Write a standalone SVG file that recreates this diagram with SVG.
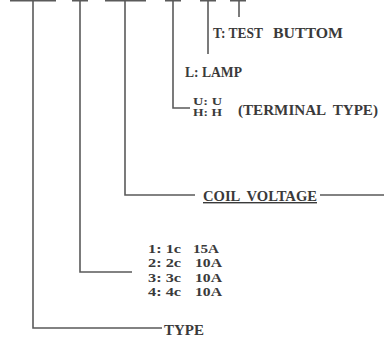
<svg xmlns="http://www.w3.org/2000/svg" width="384" height="338" viewBox="0 0 384 338">
<style>
.c{fill:none;stroke:#5a5a5a;stroke-width:1.6}
.t{font-family:"Liberation Serif",serif;font-weight:bold;fill:#3a3a3a;font-size:14px}
.s{font-family:"Liberation Serif",serif;font-weight:bold;fill:#3a3a3a;font-size:11px}
.p{font-family:"Liberation Serif",serif;font-weight:bold;fill:#3a3a3a;font-size:13px}
</style>
<rect width="384" height="338" fill="#fff"/>
<g id="connectors">
<path class="c" d="M10 0.8H56M72 0.8H88M105 0.8H146M165 0.8H181M200 0.8H216M230 0.8H246"/>
<path class="c" d="M33 0V328H162"/>
<path class="c" d="M80 0V272H132"/>
<path class="c" d="M125 0V195H195M320 195H384"/>
<path class="c" d="M173 0V108H190"/>
<path class="c" d="M208 0V54"/>
<path class="c" d="M239 0V17"/>
</g>
<g id="test"><text class="t" x="213" y="38" textLength="50" lengthAdjust="spacingAndGlyphs">T: TEST</text><text class="t" x="273" y="38" textLength="70" lengthAdjust="spacingAndGlyphs">BUTTOM</text></g>
<g id="lamp"><text class="t" x="185" y="77" textLength="57" lengthAdjust="spacingAndGlyphs">L: LAMP</text></g>
<g id="terminal">
<text class="s" x="193" y="105" textLength="29" lengthAdjust="spacingAndGlyphs">U: U</text>
<text class="s" x="193" y="116" textLength="29" lengthAdjust="spacingAndGlyphs">H: H</text>
<text class="t" x="238" y="115" textLength="140" xml:space="preserve" lengthAdjust="spacingAndGlyphs">(TERMINAL  TYPE)</text>
</g>
<g id="coil"><text class="t" x="203" y="201" textLength="114" xml:space="preserve" lengthAdjust="spacingAndGlyphs" text-decoration="underline">COIL  VOLTAGE</text></g>
<g id="poles">
<text class="p" x="148" y="253" textLength="33" lengthAdjust="spacingAndGlyphs">1: 1c</text><text class="p" x="193" y="253" textLength="26" lengthAdjust="spacingAndGlyphs">15A</text>
<text class="p" x="148" y="267" textLength="33" lengthAdjust="spacingAndGlyphs">2: 2c</text><text class="p" x="195" y="267" textLength="27" lengthAdjust="spacingAndGlyphs">10A</text>
<text class="p" x="148" y="282" textLength="33" lengthAdjust="spacingAndGlyphs">3: 3c</text><text class="p" x="195" y="282" textLength="27" lengthAdjust="spacingAndGlyphs">10A</text>
<text class="p" x="148" y="296" textLength="33" lengthAdjust="spacingAndGlyphs">4: 4c</text><text class="p" x="195" y="296" textLength="27" lengthAdjust="spacingAndGlyphs">10A</text>
</g>
<g id="type"><text class="t" x="164" y="335" textLength="40" lengthAdjust="spacingAndGlyphs">TYPE</text></g>
</svg>
